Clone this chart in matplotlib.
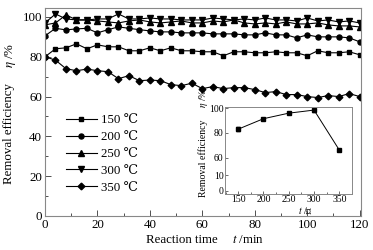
import matplotlib
matplotlib.use("Agg")
import matplotlib.pyplot as plt
import numpy as np
from matplotlib.ticker import MultipleLocator

plt.rcParams['font.family'] = ['Liberation Serif', 'DejaVu Serif']
plt.rcParams['mathtext.fontset'] = 'stix'

time_min = list(range(0, 121, 4))
eff_150 = [80, 84, 84.5, 86.5, 84, 86, 85, 85, 83, 83, 84.5, 83, 84.5, 83, 83, 82.5,
           82.5, 80.5, 82.5, 82.5, 82, 82, 82.5, 82, 82, 80.5, 83, 82, 82, 82.5, 81]
eff_200 = [90.5, 94.3, 93.5, 94, 94.3, 92, 93.6, 95, 94.3, 93.6, 93, 92.5, 92.5, 92, 92, 92,
           91.5, 91.5, 91.5, 91, 91, 92, 91, 91, 89.5, 91, 90, 90, 90, 89.5, 87.5]
eff_250 = [96, 97, 101, 98.5, 98.5, 98, 97.5, 97, 98, 98.5, 97.5, 97, 97.5, 98, 97, 97,
           98, 97.5, 98.5, 97, 96.5, 97, 96.5, 97.5, 96.5, 96.5, 97, 96, 95.5, 95.5, 95]
eff_300 = [97, 101.5, 99, 98.5, 98.5, 99, 99, 101.5, 99, 99, 99.5, 99, 99, 98.5, 98.5, 98.5,
           99.5, 99, 98.5, 99, 98.5, 99.5, 98.5, 98.5, 98, 99.5, 98, 98.5, 97.5, 98, 97]
eff_350 = [80, 78.3, 74, 73, 73.8, 73, 72.5, 69, 70.5, 68, 68.3, 68, 66, 65.5, 66.7, 64,
           65, 64, 64.5, 64.5, 63.5, 62, 62.5, 61, 61, 60, 59.5, 60.5, 60, 61.5, 60]
series_labels = ['150 \u2103', '200 \u2103', '250 \u2103', '300 \u2103', '350 \u2103']
markers = ['s', 'o', '^', 'v', 'D']

inset_temp = [150, 200, 250, 300, 350]
inset_eff = [83, 91.5, 96, 98.5, 66]
inset_err = [1.8, 0.8, 0.8, 1.2, 1.0]
inset_yticks = [33, 45.5, 60, 80, 100]
inset_yticklabels = ['0', '10', '60', '80', '100']

fig = plt.figure(figsize=(3.73, 2.5), dpi=100)
ax = fig.add_axes([45/373, 1-216/250, (361-45)/373, (216-8)/250])

for y, m, lab in zip([eff_150, eff_200, eff_250, eff_300, eff_350], markers, series_labels):
    ms = {'s': 3.4, 'o': 3.6, '^': 4.0, 'v': 4.0, 'D': 3.4}[m]
    ax.plot(time_min, y, color='black', lw=0.8, marker=m, ms=ms, label=lab)

ax.set_xlim(0, 120.5)
ax.set_ylim(0, 104.5)
ax.xaxis.set_major_locator(MultipleLocator(20))
ax.xaxis.set_minor_locator(MultipleLocator(10))
ax.yaxis.set_major_locator(MultipleLocator(20))
ax.yaxis.set_minor_locator(MultipleLocator(10))
ax.tick_params(which='both', direction='in', labelsize=9.3, color='#333333', pad=2)
ax.tick_params(which='major', length=4, width=0.6)
ax.tick_params(which='minor', length=2.5, width=0.6)
for s in ax.spines.values():
    s.set_color('#888888')
    s.set_linewidth(0.8)

leg = ax.legend(loc='upper left', bbox_to_anchor=(0.066, 0.49), frameon=False,
                fontsize=9.3, handlelength=2.4, labelspacing=0.38, handletextpad=0.3,
                borderaxespad=0, borderpad=0)

fig.text(9/373, 1-134/250, 'Removal efficiency', rotation=90, ha='center', va='center', fontsize=9.3)
fig.text(11/373, 1-55/250, '$\\eta$ /%', rotation=90, ha='center', va='center', fontsize=9.3)
fig.text(182/373, 1-240/250, 'Reaction time', ha='center', va='center', fontsize=9.3)
fig.text(248/373, 1-240/250, '$t$ /min', ha='center', va='center', fontsize=9.3)

# inset
ins = fig.add_axes([225/373, 1-194/250, (352-225)/373, (194-107)/250])
ins.errorbar(inset_temp, inset_eff, yerr=inset_err, color='black', lw=0.7, marker='s',
             ms=2.3, capsize=1.2, elinewidth=0.6)
ins.set_xlim(124, 375)
ins.set_ylim(30.4, 101)
ins.set_xticks(inset_temp)
ins.xaxis.set_minor_locator(MultipleLocator(25))
ins.set_yticks(inset_yticks)
ins.set_yticklabels(inset_yticklabels)
ins.tick_params(which='both', direction='in', labelsize=7, pad=1.0, color='#333333')
ins.tick_params(which='major', length=2.5, width=0.5)
ins.tick_params(which='minor', length=1.5, width=0.5)
for s in ins.spines.values():
    s.set_color('#888888')
    s.set_linewidth(0.7)
fig.text(203/373, 1-158/250, 'Removal efficiency', rotation=90, ha='center', va='center', fontsize=7)
fig.text(203/373, 1-98/250, '$\\eta$ /%', rotation=90, ha='center', va='center', fontsize=7)
fig.text(305/373, 1-211/250, '$t$ /\u2103', ha='center', va='center', fontsize=7)

fig.savefig('out.png', dpi=100)
